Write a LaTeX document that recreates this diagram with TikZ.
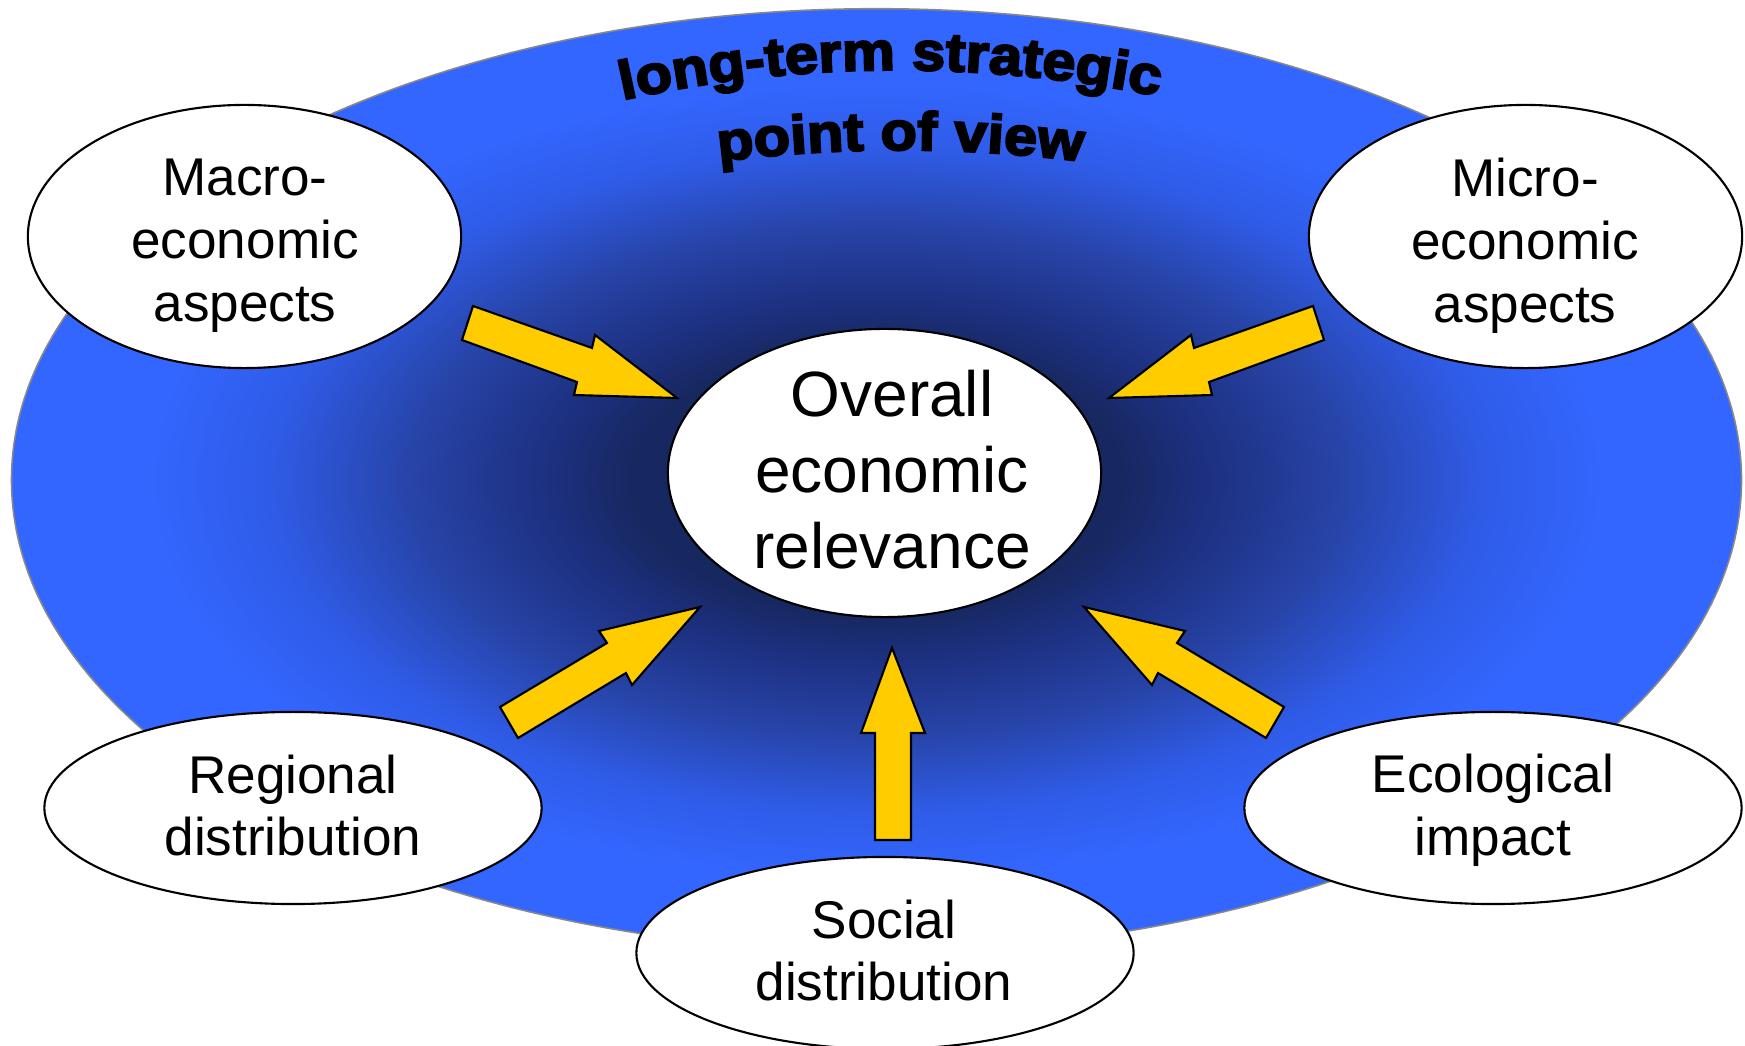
\documentclass[tikz,border=0pt]{standalone}
\usepackage{fontspec}
\setmainfont{Liberation Sans}
\newfontfamily\titlefamily{Liberation Sans Bold}[FakeBold=4,FakeStretch=1.1]
\usetikzlibrary{shapes.geometric,decorations.text}
\definecolor{gold}{HTML}{FFCC00}
\definecolor{navyA}{HTML}{17275F}
\definecolor{navyB}{HTML}{1D3080}
\definecolor{blueC}{HTML}{2744A8}
\definecolor{blueD}{HTML}{2F5BE6}
\definecolor{blueE}{HTML}{3366FF}
\definecolor{rimgray}{HTML}{888888}
\pgfdeclareradialshading{bigglow}{\pgfpoint{0bp}{0bp}}{color(0bp)=(navyA); color(7bp)=(navyA); color(9.5bp)=(navyB); color(13.5bp)=(blueC); color(17.5bp)=(blueD); color(21bp)=(blueE); color(50bp)=(blueE)}
\begin{document}
\begin{tikzpicture}[x=0.01cm,y=0.01cm,
  bubble/.style={ellipse, draw=black, line width=0.6pt, fill=white, inner sep=0pt, outer sep=0pt},
  bigtxt/.style={align=center, font=\fontsize{18.2}{21.5}\selectfont, inner sep=0pt},
  smalltxt/.style={align=center, font=\fontsize{15.1}{17.9}\selectfont, inner sep=0pt},
  blockarrow/.style={fill=gold, draw=black, line width=0.6pt, line join=miter}]
\useasboundingbox (0,0) rectangle (1745,1045);
\shade[shading=bigglow, draw=rimgray, line width=0.45pt] (876.5,565) ellipse [x radius=8.645cm, y radius=4.71cm];
% title
\path[decorate, decoration={text along path, text align=center, text={|\titlefamily\fontsize{15.4}{18}\selectfont|long-term strategic}}] (618,944) .. controls (799,984.7) and (982,984.7) .. (1163,948);
\path[decorate, decoration={text along path, text align=center, text={|\titlefamily\fontsize{15.4}{18}\selectfont|point of view}}] (722,884) .. controls (841,898.7) and (960,898.7) .. (1079,884);
% arrows
\draw[blockarrow] (473,739) -- (592,697) -- (595,710) -- (677,647) -- (574,650) -- (577,663) -- (462,705) -- cycle;
\draw[blockarrow] (1313,739) -- (1194,697) -- (1191,710) -- (1109,647) -- (1212,650) -- (1209,663) -- (1324,705) -- cycle;
\draw[blockarrow] (500,338) -- (607,402) -- (599,414) -- (700,438) -- (632,360) -- (626,372) -- (518,307) -- cycle;
\draw[blockarrow] (1284,338) -- (1177,402) -- (1185,414) -- (1084,438) -- (1152,360) -- (1158,372) -- (1266,307) -- cycle;
\draw[blockarrow] (892,397) -- (925,312) -- (911,312) -- (911,205) -- (875,205) -- (875,312) -- (861,312) -- cycle;
% bubbles
\node[bubble, minimum width=4.33cm, minimum height=2.88cm] (centre) at (884.5,572) {};
\node[bubble, minimum width=4.33cm, minimum height=2.63cm] (macro) at (244.5,808.5) {};
\node[bubble, minimum width=4.33cm, minimum height=2.63cm] (micro) at (1525.5,808.5) {};
\node[bubble, minimum width=4.97cm, minimum height=1.92cm] (regional) at (293,237) {};
\node[bubble, minimum width=4.97cm, minimum height=1.92cm] (ecological) at (1493,237) {};
\node[bubble, minimum width=4.97cm, minimum height=1.92cm] (social) at (885,92) {};
% texts
\node[bigtxt] (centret) at (892,575.4) {Overall\\economic\\relevance};
\node[smalltxt] (macrot) at (245,799.5) {Macro-\\economic\\aspects};
\node[smalltxt] (microt) at (1525,799.5) {Micro-\\economic\\aspects};
\node[smalltxt] (regionalt) at (293,239.5) {Regional\\distribution};
\node[smalltxt] (ecologicalt) at (1493,234.3) {Ecological\\impact};
\node[smalltxt] (socialt) at (884,94.5) {Social\\distribution};
\end{tikzpicture}
\end{document}
